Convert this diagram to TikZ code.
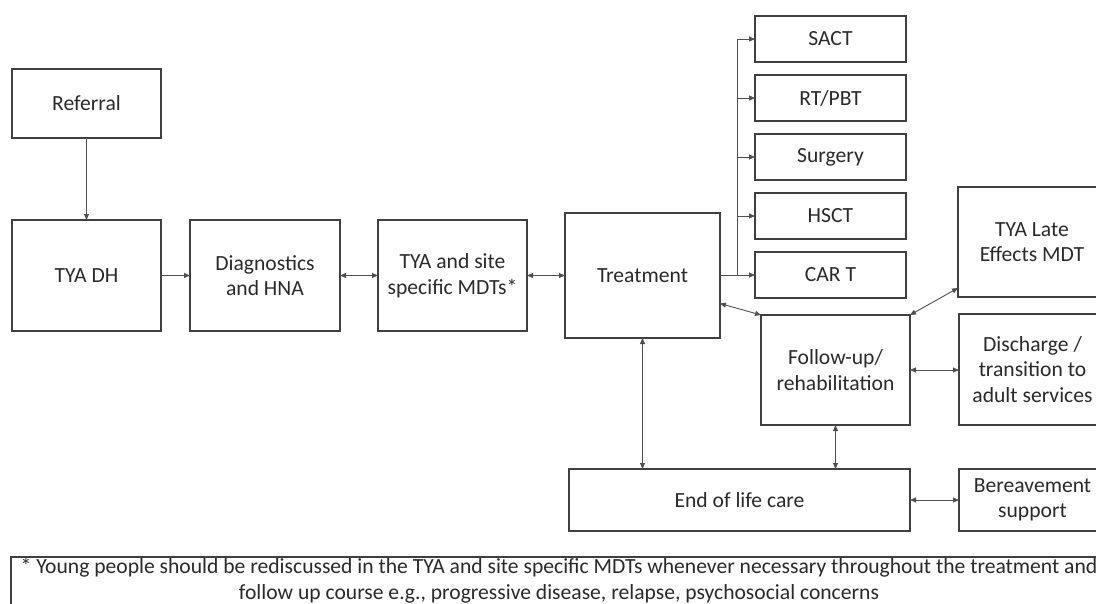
\documentclass[tikz,border=0pt]{standalone}
\usepackage{fontspec}
\setmainfont{Carlito}
\usetikzlibrary{arrows.meta}
\definecolor{boxgray}{HTML}{404040}
\definecolor{linegray}{HTML}{505050}
\definecolor{txtgray}{HTML}{2a2a2a}

\begin{document}
\begin{tikzpicture}[x=1pt, y=-1pt,
  every node/.style={font=\fontsize{21.6}{25.5}\selectfont, text=txtgray, align=center},
  box/.style={draw=boxgray, line width=1.4pt, inner sep=0pt, outer sep=0pt},
  arr/.style={draw=linegray, line width=0.9pt, -{Triangle[length=6pt,width=5pt]}},
  darr/.style={draw=linegray, line width=0.9pt, {Triangle[length=6pt,width=5pt]}-{Triangle[length=6pt,width=5pt]}}]

\useasboundingbox (0,0) rectangle (1096,603);

% Main pathway
\node[box, minimum width=149pt, minimum height=69pt] (ref) at (86.5, 103.5) {Referral};
\node[box, minimum width=149pt, minimum height=111pt] (dh) at (86.5, 275.5) {TYA DH};
\node[box, minimum width=150pt, minimum height=111pt] (diag) at (265, 275.5) {Diagnostics\\and HNA};
\node[box, minimum width=149pt, minimum height=111pt] (mdt) at (452.5, 275.5) {TYA and site\\specific MDTs*};
\node[box, minimum width=155pt, minimum height=125pt] (treat) at (642.5, 275.5) {Treatment};

% Treatment options
\node[box, minimum width=151pt, minimum height=46pt] (sact) at (830.5, 39) {SACT};
\node[box, minimum width=151pt, minimum height=46pt] (rt) at (830.5, 98) {RT/PBT};
\node[box, minimum width=151pt, minimum height=46pt] (surg) at (830.5, 157) {Surgery};
\node[box, minimum width=151pt, minimum height=46pt] (hsct) at (830.5, 216) {HSCT};
\node[box, minimum width=151pt, minimum height=46pt] (cart) at (830.5, 275) {CAR T};

% After treatment
\node[box, minimum width=148pt, minimum height=110pt] (late) at (1032, 242) {TYA Late\\Effects MDT};
\node[box, minimum width=149pt, minimum height=110pt] (fu) at (835.5, 370) {Follow-up/\\rehabilitation};
\node[box, minimum width=147pt, minimum height=111pt] (dis) at (1032.5, 369.5) {Discharge /\\transition to\\adult services};
\node[box, minimum width=341pt, minimum height=62pt] (eol) at (739.5, 500) {End of life care};
\node[box, minimum width=147pt, minimum height=62pt] (ber) at (1032.5, 500) {Bereavement\\support};

% Footnote
\node[box, minimum width=1095pt, minimum height=60pt, anchor=north] (note) at (558.5, 557)
  {};
\node (notetxt) at (559, 580.5) {* Young people should be rediscussed in the TYA and site specific MDTs whenever necessary throughout the treatment and\\follow up course e.g., progressive disease, relapse, psychosocial concerns};

% Connectors
\draw[arr] (ref) -- (dh);
\draw[arr] (dh) -- (diag);
\draw[darr] (diag) -- (mdt);
\draw[darr] (mdt) -- (treat);

\coordinate (trunk) at (737, 275.5);
\draw[draw=linegray, line width=0.9pt] (treat.east) -- (trunk) -- (trunk |- sact);
\draw[arr] (trunk |- sact) -- (sact.west);
\draw[arr] (trunk |- rt) -- (rt.west);
\draw[arr] (trunk |- surg) -- (surg.west);
\draw[arr] (trunk |- hsct) -- (hsct.west);
\draw[arr] (trunk |- cart) -- (cart.west);

\draw[darr] ([yshift=-28pt]treat.east) -- (fu.north west);
\draw[darr] (fu.north east) -- ([yshift=-46pt]late.west);
\draw[darr] (fu.east) -- (fu.east -| dis.west);
\draw[darr] (treat.south) -- (treat.south |- eol.north);
\draw[darr] (fu.south) -- (fu.south |- eol.north);
\draw[darr] (eol.east) -- (eol.east -| ber.west);

\end{tikzpicture}
\end{document}
